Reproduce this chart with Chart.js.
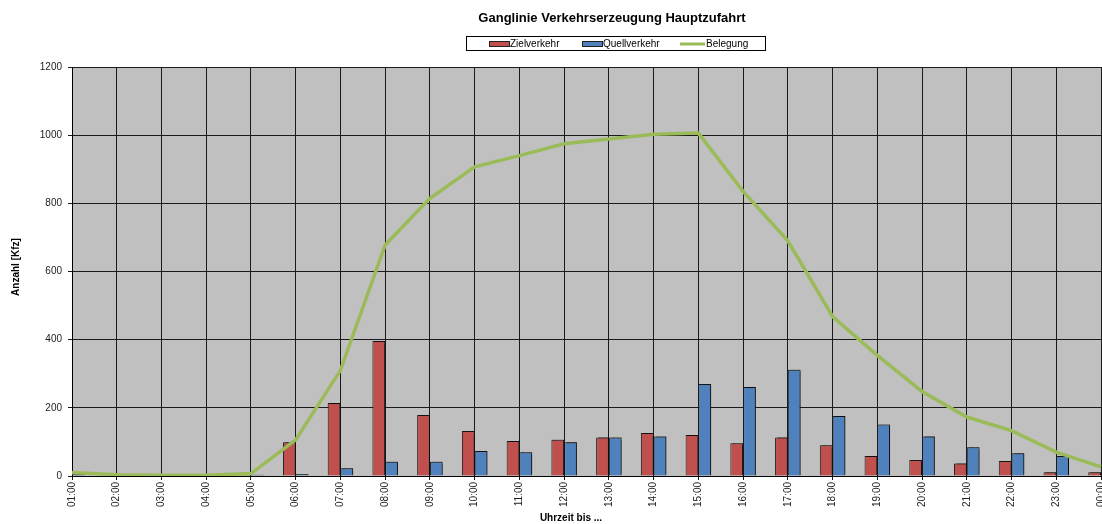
<!DOCTYPE html>
<html lang="de">
<head>
<meta charset="utf-8">
<title>Ganglinie Verkehrserzeugung Hauptzufahrt</title>
<script src="https://cdn.jsdelivr.net/npm/chart.js@4.4.1/dist/chart.umd.min.js"></script>
<style>
  html, body { margin: 0; padding: 0; background: #ffffff; }
  #wrap { position: relative; width: 1102px; height: 524px; }
  canvas { display: block; }
</style>
</head>
<body>
<div id="wrap"><canvas id="chart" width="1102" height="524"></canvas></div>
<script>
// Stunden (Uhrzeit bis ...)
const hours = ['01:00','02:00','03:00','04:00','05:00','06:00','07:00','08:00','09:00','10:00','11:00','12:00',
               '13:00','14:00','15:00','16:00','17:00','18:00','19:00','20:00','21:00','22:00','23:00','00:00'];
// Zielverkehr je Stunde [Kfz]
const zielverkehr = [3, 0, 0, 0, 2, 99, 214, 396, 179, 132, 103, 106, 113, 126, 120, 96, 113, 90, 59, 47, 37, 44, 11, 11];
// Quellverkehr je Stunde [Kfz]
const quellverkehr = [5, 0, 0, 0, 4, 6, 23, 42, 42, 73, 70, 99, 113, 116, 270, 261, 312, 176, 151, 116, 84, 67, 59, 8];
// Belegung (Fahrzeuge im Gebiet)
const belegung = [10, 4, 2, 2, 7, 106, 310, 678, 815, 907, 940, 975, 989, 1003, 1006, 835, 690, 468, 354, 248, 173, 133, 70, 27];
// Achsenwerte
const yTicks = [0, 200, 400, 600, 800, 1000, 1200];

const FONT = '"Liberation Sans", Arial, Helvetica, sans-serif';
const RED = '#C0504D', BLUE = '#4F81BD', GREEN = '#9BBB59';

// grey plot area
const plotBackground = {
  id: 'plotBackground',
  beforeDraw(chart) {
    const { ctx, chartArea: a } = chart;
    ctx.save();
    ctx.fillStyle = '#C0C0C0';
    ctx.fillRect(a.left, a.top, a.right - a.left, a.bottom - a.top);
    ctx.restore();
  }
};

// soft drop shadow behind the bars
const barShadow = {
  id: 'barShadow',
  beforeDatasetDraw(chart, args) {
    if (args.meta.type !== 'bar') return;
    const ctx = chart.ctx;
    ctx.save();
    ctx.shadowColor = 'rgba(0,0,0,0.5)';
    ctx.shadowOffsetX = 2;
    ctx.shadowOffsetY = -1;
    ctx.shadowBlur = 1;
  },
  afterDatasetDraw(chart, args) {
    if (args.meta.type !== 'bar') return;
    chart.ctx.restore();
  }
};

// title, boxed legend and axis titles
const annotations = {
  id: 'annotations',
  afterDraw(chart) {
    const ctx = chart.ctx;
    ctx.save();
    ctx.fillStyle = '#000';
    ctx.textBaseline = 'middle';

    // title
    ctx.font = 'bold 13px ' + FONT;
    ctx.textAlign = 'center';
    ctx.fillText('Ganglinie Verkehrserzeugung Hauptzufahrt', 612, 18);

    // legend frame
    ctx.strokeStyle = '#000';
    ctx.lineWidth = 1;
    ctx.strokeRect(466.5, 36.5, 299, 14);

    ctx.font = '10px ' + FONT;
    ctx.textAlign = 'left';
    const items = [
      { ds: chart.data.datasets[1], x: 489 },
      { ds: chart.data.datasets[2], x: 582 },
      { ds: chart.data.datasets[0], x: 680 }
    ];
    items.forEach(it => {
      if (it.ds.type === 'line') {
        ctx.strokeStyle = it.ds.borderColor;
        ctx.lineWidth = 3;
        ctx.beginPath();
        ctx.moveTo(it.x, 44);
        ctx.lineTo(it.x + 25, 44);
        ctx.stroke();
        ctx.fillStyle = '#000';
        ctx.fillText(it.ds.label, it.x + 26, 44);
      } else {
        ctx.fillStyle = it.ds.backgroundColor;
        ctx.fillRect(it.x, 41.5, 20, 5);
        ctx.strokeStyle = '#222';
        ctx.lineWidth = 1;
        ctx.strokeRect(it.x + 0.5, 41.5, 20, 5);
        ctx.fillStyle = '#000';
        ctx.fillText(it.ds.label, it.x + 21, 44);
      }
    });

    // axis titles
    ctx.font = 'bold 10px ' + FONT;
    ctx.textAlign = 'center';
    ctx.fillText('Uhrzeit bis ...', 571, 518);
    ctx.translate(16, 267);
    ctx.rotate(-Math.PI / 2);
    ctx.fillText('Anzahl [Kfz]', 0, 0);
    ctx.restore();
  }
};

new Chart(document.getElementById('chart'), {
  data: {
    labels: hours,
    datasets: [
      {
        type: 'line',
        label: 'Belegung',
        data: belegung,
        borderColor: GREEN,
        backgroundColor: GREEN,
        borderWidth: 3.5,
        pointRadius: 0,
        pointHoverRadius: 0,
        tension: 0,
        order: 0
      },
      {
        type: 'bar',
        label: 'Zielverkehr',
        data: zielverkehr,
        backgroundColor: RED,
        borderColor: '#1a1a1a',
        borderWidth: 1,
        categoryPercentage: 0.57,
        barPercentage: 1,
        clip: 0,
        order: 1
      },
      {
        type: 'bar',
        label: 'Quellverkehr',
        data: quellverkehr,
        backgroundColor: BLUE,
        borderColor: '#1a1a1a',
        borderWidth: 1,
        categoryPercentage: 0.57,
        barPercentage: 1,
        clip: 0,
        order: 1
      }
    ]
  },
  options: {
    responsive: false,
    animation: false,
    events: [],
    layout: { padding: { top: 67, right: 1, left: 0, bottom: 0 } },
    plugins: {
      legend: { display: false },
      title: { display: false },
      tooltip: { enabled: false }
    },
    scales: {
      x: {
        type: 'category',
        offset: false,
        grid: {
          offset: false,
          color: '#1a1a1a',
          lineWidth: 1,
          tickLength: 4,
          drawOnChartArea: true
        },
        border: { color: '#000', width: 1 },
        ticks: {
          color: '#222',
          font: { family: FONT, size: 10 },
          minRotation: 90,
          maxRotation: 90,
          autoSkip: false,
          padding: 2
        },
        afterFit(scale) {
          scale.height = 48;
          scale.paddingLeft = 0;
          scale.paddingRight = 0;
        }
      },
      y: {
        min: 0,
        max: 1200,
        afterBuildTicks(scale) {
          scale.ticks = yTicks.map(v => ({ value: v }));
        },
        grid: {
          color: '#1a1a1a',
          lineWidth: 1,
          tickLength: 4
        },
        border: { color: '#000', width: 1 },
        ticks: {
          color: '#222',
          font: { family: FONT, size: 10 },
          padding: 6,
          callback: v => String(v)
        },
        afterFit(scale) {
          scale.width = 72;
          scale.paddingTop = 0;
          scale.paddingBottom = 0;
        }
      }
    }
  },
  plugins: [plotBackground, barShadow, annotations]
});
</script>
</body>
</html>
